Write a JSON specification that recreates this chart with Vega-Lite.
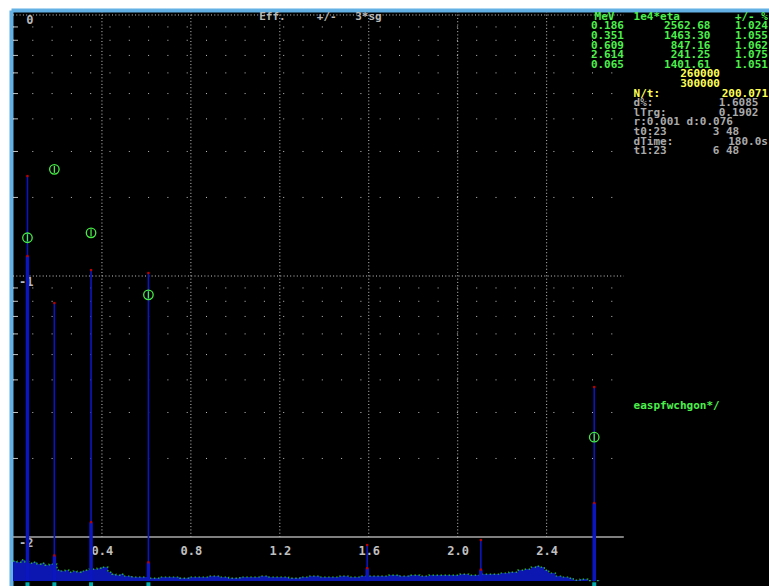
{
  "$schema": "https://vega.github.io/schema/vega-lite/v6.json",
  "width": 756,
  "height": 574,
  "autosize": {"type": "none"},
  "padding": {"left": 13, "top": 12, "right": 0, "bottom": 0},
  "background": "#ffffff",
  "config": {
    "view": {"fill": "#000000", "stroke": null},
    "text": {"font": "DejaVu Sans Mono", "fontWeight": "bold", "fontSize": 11}
  },
  "datasets": {
    "minor": [
      {"v": 200}, {"v": 300}, {"v": 400}, {"v": 500}, {"v": 600}, {"v": 700}, {"v": 800}, {"v": 900},
      {"v": 2000}, {"v": 3000}, {"v": 4000}, {"v": 5000}, {"v": 6000}, {"v": 7000}, {"v": 8000}, {"v": 9000}
    ],
    "decades": [{"v": 1000}, {"v": 10000}],
    "gridE": [{"E": 0.4}, {"E": 0.8}, {"E": 1.2}, {"E": 1.6}, {"E": 2.0}, {"E": 2.4}],
    "spectrum": [
      {"E": 0, "c": 80.9}, {"E": 0.018, "c": 80.2}, {"E": 0.036, "c": 81.7}, {"E": 0.054, "c": 80.2},
      {"E": 0.072, "c": 79.5}, {"E": 0.09, "c": 80.2}, {"E": 0.108, "c": 78.8}, {"E": 0.126, "c": 79.5},
      {"E": 0.144, "c": 78.1}, {"E": 0.162, "c": 78.8}, {"E": 0.18, "c": 78.8}, {"E": 0.198, "c": 74.7},
      {"E": 0.216, "c": 74.1}, {"E": 0.234, "c": 74.7}, {"E": 0.252, "c": 73.4}, {"E": 0.27, "c": 74.1},
      {"E": 0.288, "c": 73.4}, {"E": 0.306, "c": 74.1}, {"E": 0.324, "c": 74.7}, {"E": 0.342, "c": 75.4},
      {"E": 0.36, "c": 75.4}, {"E": 0.378, "c": 76.0}, {"E": 0.396, "c": 76.7}, {"E": 0.414, "c": 76.7},
      {"E": 0.427, "c": 73.4}, {"E": 0.445, "c": 72.1}, {"E": 0.463, "c": 71.5}, {"E": 0.481, "c": 72.1},
      {"E": 0.499, "c": 70.9}, {"E": 0.517, "c": 70.9}, {"E": 0.535, "c": 70.3}, {"E": 0.57, "c": 70.3},
      {"E": 0.61, "c": 69.6}, {"E": 0.66, "c": 70.3}, {"E": 0.7, "c": 70.3}, {"E": 0.75, "c": 69.6},
      {"E": 0.79, "c": 70.3}, {"E": 0.84, "c": 70.3}, {"E": 0.88, "c": 70.9}, {"E": 0.93, "c": 70.3},
      {"E": 0.97, "c": 69.6}, {"E": 1.02, "c": 70.3}, {"E": 1.06, "c": 70.3}, {"E": 1.11, "c": 70.9},
      {"E": 1.15, "c": 70.3}, {"E": 1.2, "c": 70.3}, {"E": 1.24, "c": 69.6}, {"E": 1.29, "c": 70.3},
      {"E": 1.33, "c": 70.9}, {"E": 1.38, "c": 70.3}, {"E": 1.42, "c": 70.3}, {"E": 1.47, "c": 70.9},
      {"E": 1.51, "c": 70.3}, {"E": 1.56, "c": 70.9}, {"E": 1.6, "c": 70.9}, {"E": 1.65, "c": 70.9},
      {"E": 1.69, "c": 71.5}, {"E": 1.74, "c": 70.9}, {"E": 1.78, "c": 71.5}, {"E": 1.83, "c": 70.9},
      {"E": 1.87, "c": 71.5}, {"E": 1.92, "c": 71.5}, {"E": 1.96, "c": 71.5}, {"E": 2.01, "c": 72.1},
      {"E": 2.05, "c": 71.5}, {"E": 2.1, "c": 72.1}, {"E": 2.14, "c": 72.1}, {"E": 2.19, "c": 72.8},
      {"E": 2.23, "c": 73.4}, {"E": 2.27, "c": 74.7}, {"E": 2.3, "c": 75.4}, {"E": 2.33, "c": 76.7},
      {"E": 2.35, "c": 77.4}, {"E": 2.37, "c": 76.7}, {"E": 2.39, "c": 74.7}, {"E": 2.41, "c": 72.8},
      {"E": 2.44, "c": 70.9}, {"E": 2.47, "c": 70.3}, {"E": 2.5, "c": 69.6}, {"E": 2.52, "c": 68.4},
      {"E": 2.55, "c": 69.0}, {"E": 2.585, "c": 68.1}, {"E": 2.64, "c": 67.8}
    ],
    "peaks": [
      {"E": 0.065, "top": 2416, "mid": 1193},
      {"E": 0.186, "top": 788, "mid": 85},
      {"E": 0.351, "top": 1054, "mid": 114},
      {"E": 0.609, "top": 1027, "mid": 80},
      {"E": 1.593, "top": 93.2, "mid": 76},
      {"E": 2.104, "top": 97.4, "mid": 75},
      {"E": 2.614, "top": 375.6, "mid": 135}
    ],
    "calib": [
      {"E": 0.186, "eta": 2562.68, "err": 1.024, "row": 1},
      {"E": 0.351, "eta": 1463.30, "err": 1.055, "row": 2},
      {"E": 0.609, "eta": 847.16, "err": 1.062, "row": 3},
      {"E": 2.614, "eta": 241.25, "err": 1.075, "row": 4},
      {"E": 0.065, "eta": 1401.61, "err": 1.051, "row": 5}
    ],
    "panelLeft": [
      {"t": "Eff.", "col": 27, "row": 0, "kind": "title"},
      {"t": "+/-", "col": 33, "row": 0, "kind": "title"},
      {"t": "3*sg", "col": 37, "row": 0, "kind": "title"},
      {"t": "1e4*eta", "col": 66, "row": 0, "kind": "cal"},
      {"t": "N/t:", "col": 66, "row": 8, "kind": "cnt"},
      {"t": "d%:", "col": 66, "row": 9, "kind": "stat"},
      {"t": "lTrg:", "col": 66, "row": 10, "kind": "stat"},
      {"t": "r:0.001 d:0.076", "col": 66, "row": 11, "kind": "stat"},
      {"t": "t0:23", "col": 66, "row": 12, "kind": "stat"},
      {"t": "dTime:", "col": 66, "row": 13, "kind": "stat"},
      {"t": "t1:23", "col": 66, "row": 14, "kind": "stat"},
      {"t": "easpfwchgon*/", "col": 66, "row": 40.55, "kind": "cal"}
    ],
    "panelRight": [
      {"t": "MeV", "col": 64, "row": 0, "kind": "cal"},
      {"t": "+/- %", "col": 80, "row": 0, "kind": "cal"},
      {"t": "260000", "col": 75, "row": 6, "kind": "cnt"},
      {"t": "300000", "col": 75, "row": 7, "kind": "cnt"},
      {"t": "200.071", "col": 80, "row": 8, "kind": "cnt"},
      {"t": "1.6085", "col": 79, "row": 9, "kind": "stat"},
      {"t": "0.1902", "col": 79, "row": 10, "kind": "stat"},
      {"t": "3 48", "col": 77, "row": 12, "kind": "stat"},
      {"t": "180.0s", "col": 80, "row": 13, "kind": "stat"},
      {"t": "6 48", "col": 77, "row": 14, "kind": "stat"}
    ]
  },
  "layer": [
    {
      "data": {"name": "minor"},
      "mark": {"type": "rule", "color": "#c0c0c0", "strokeWidth": 1, "strokeDash": [1, 18.3]},
      "encoding": {
        "x": {"datum": 0, "scale": {"domain": [0, 3.4], "nice": false, "zero": false}, "axis": null},
        "x2": {"datum": 2.747},
        "y": {
          "field": "v", "type": "quantitative",
          "scale": {"type": "log", "domain": [64.92, 10268], "nice": false},
          "axis": {
            "orient": "left", "values": [100, 1000, 10000],
            "labelExpr": "'' + (round(log(datum.value) / LN10) - 4)",
            "offset": 2, "domainColor": "#62b0e4", "domainWidth": 4, "domainCap": "square",
            "ticks": false, "grid": false, "title": null,
            "labelAlign": "right", "labelBaseline": "top", "labelPadding": -22,
            "labelFlush": false, "labelOverlap": false, "labelBound": false,
            "labelColor": "#b8b8b8", "labelFont": "DejaVu Sans Mono", "labelFontWeight": "bold", "labelFontSize": 12
          }
        }
      }
    },
    {
      "data": {"name": "minor"},
      "mark": {"type": "rule", "color": "#c0c0c0", "strokeWidth": 1},
      "encoding": {
        "x": {"datum": 0, "scale": {"domain": [0, 3.4], "nice": false, "zero": false}, "axis": null},
        "x2": {"datum": 0.0225},
        "y": {"field": "v", "type": "quantitative", "scale": {"type": "log", "domain": [64.92, 10268], "nice": false}, "axis": null}
      }
    },
    {
      "data": {"name": "decades"},
      "mark": {"type": "rule", "color": "#c8c8c8", "strokeWidth": 1, "strokeDash": [1, 2.3]},
      "encoding": {
        "x": {"datum": 0, "scale": {"domain": [0, 3.4], "nice": false, "zero": false}, "axis": null},
        "x2": {"datum": 2.747},
        "y": {"field": "v", "type": "quantitative", "scale": {"type": "log", "domain": [64.92, 10268], "nice": false}, "axis": null}
      }
    },
    {
      "data": {"name": "gridE"},
      "mark": {"type": "rule", "color": "#c8c8c8", "strokeWidth": 1, "strokeDash": [1, 2.3]},
      "encoding": {
        "x": {
          "field": "E", "type": "quantitative",
          "scale": {"domain": [0, 3.4], "nice": false, "zero": false},
          "axis": {
            "orient": "bottom", "values": [0.4, 0.8, 1.2, 1.6, 2.0, 2.4], "format": ".1f",
            "offset": -49, "domain": false, "ticks": false, "grid": false, "title": null,
            "labelPadding": 8, "labelBaseline": "top", "labelFlush": false, "labelOverlap": false,
            "labelColor": "#c0c0c0", "labelFont": "DejaVu Sans Mono", "labelFontWeight": "bold", "labelFontSize": 12
          }
        },
        "y": {"datum": 100, "scale": {"type": "log", "domain": [64.92, 10268], "nice": false}, "axis": null},
        "y2": {"datum": 10260}
      }
    },
    {
      "data": {"values": [{"level": 100}]},
      "mark": {"type": "rule", "color": "#a8a8a8", "strokeWidth": 1.6},
      "encoding": {
        "x": {"datum": 0, "scale": {"domain": [0, 3.4], "nice": false, "zero": false}, "axis": null},
        "x2": {"datum": 2.747},
        "y": {"field": "level", "type": "quantitative", "scale": {"type": "log", "domain": [64.92, 10268], "nice": false}, "axis": null}
      }
    },
    {
      "data": {"name": "spectrum"},
      "mark": {"type": "area", "interpolate": "step-after", "color": "#0c16b0"},
      "encoding": {
        "x": {"field": "E", "type": "quantitative", "scale": {"domain": [0, 3.4], "nice": false, "zero": false}, "axis": null},
        "y": {"field": "c", "type": "quantitative", "scale": {"type": "log", "domain": [64.92, 10268], "nice": false}, "axis": null},
        "y2": {"datum": 67.8}
      }
    },
    {
      "data": {"name": "spectrum"},
      "mark": {"type": "line", "interpolate": "step-after", "color": "#2cc82c", "strokeWidth": 1.2, "strokeDash": [1.5, 2.5]},
      "encoding": {
        "x": {"field": "E", "type": "quantitative", "scale": {"domain": [0, 3.4], "nice": false, "zero": false}, "axis": null},
        "y": {"field": "c", "type": "quantitative", "scale": {"type": "log", "domain": [64.92, 10268], "nice": false}, "axis": null}
      }
    },
    {
      "data": {"name": "peaks"},
      "mark": {"type": "rule", "color": "#0c16c0", "strokeWidth": 1.6},
      "encoding": {
        "x": {"field": "E", "type": "quantitative", "scale": {"domain": [0, 3.4], "nice": false, "zero": false}, "axis": null},
        "y": {"field": "top", "type": "quantitative", "scale": {"type": "log", "domain": [64.92, 10268], "nice": false}, "axis": null},
        "y2": {"datum": 67.8}
      }
    },
    {
      "data": {"name": "peaks"},
      "mark": {"type": "rule", "color": "#0c16c0", "strokeWidth": 3.5},
      "encoding": {
        "x": {"field": "E", "type": "quantitative", "scale": {"domain": [0, 3.4], "nice": false, "zero": false}, "axis": null},
        "y": {"field": "mid", "type": "quantitative", "scale": {"type": "log", "domain": [64.92, 10268], "nice": false}, "axis": null},
        "y2": {"datum": 67.8}
      }
    },
    {
      "data": {"name": "peaks"},
      "mark": {"type": "point", "shape": "square", "filled": true, "color": "#c00000", "size": 5, "opacity": 1},
      "encoding": {
        "x": {"field": "E", "type": "quantitative", "scale": {"domain": [0, 3.4], "nice": false, "zero": false}, "axis": null},
        "y": {"field": "top", "type": "quantitative", "scale": {"type": "log", "domain": [64.92, 10268], "nice": false}, "axis": null}
      }
    },
    {
      "data": {"name": "peaks"},
      "mark": {"type": "point", "shape": "square", "filled": true, "color": "#c00000", "size": 5, "opacity": 1},
      "encoding": {
        "x": {"field": "E", "type": "quantitative", "scale": {"domain": [0, 3.4], "nice": false, "zero": false}, "axis": null},
        "y": {"field": "mid", "type": "quantitative", "scale": {"type": "log", "domain": [64.92, 10268], "nice": false}, "axis": null}
      }
    },
    {
      "data": {"name": "calib"},
      "mark": {"type": "point", "shape": "square", "filled": true, "color": "#00aaaa", "size": 16, "opacity": 1},
      "encoding": {
        "x": {"field": "E", "type": "quantitative", "scale": {"domain": [0, 3.4], "nice": false, "zero": false}, "axis": null},
        "y": {"datum": 65.9, "scale": {"type": "log", "domain": [64.92, 10268], "nice": false}, "axis": null}
      }
    },
    {
      "data": {"name": "calib"},
      "transform": [
        {"calculate": "datum.eta * (1 - 3 * datum.err / 100)", "as": "lo"},
        {"calculate": "datum.eta * (1 + 3 * datum.err / 100)", "as": "hi"}
      ],
      "mark": {"type": "rule", "color": "#44ee44", "strokeWidth": 1.3},
      "encoding": {
        "x": {"field": "E", "type": "quantitative", "scale": {"domain": [0, 3.4], "nice": false, "zero": false}, "axis": null},
        "y": {"field": "lo", "type": "quantitative", "scale": {"type": "log", "domain": [64.92, 10268], "nice": false}, "axis": null},
        "y2": {"field": "hi"}
      }
    },
    {
      "data": {"name": "calib"},
      "mark": {"type": "point", "shape": "circle", "filled": false, "color": "#44ee44", "size": 90, "strokeWidth": 1.3, "opacity": 1},
      "encoding": {
        "x": {"field": "E", "type": "quantitative", "scale": {"domain": [0, 3.4], "nice": false, "zero": false}, "axis": null},
        "y": {"field": "eta", "type": "quantitative", "scale": {"type": "log", "domain": [64.92, 10268], "nice": false}, "axis": null}
      }
    },
    {
      "data": {"name": "panelLeft"},
      "mark": {"type": "text", "align": "left", "baseline": "middle"},
      "encoding": {
        "x": {
          "field": "col", "type": "quantitative",
          "scale": {"domain": [1.354, 80.104], "nice": false, "zero": false},
          "axis": {"orient": "top", "offset": 2, "domainColor": "#62b0e4", "domainWidth": 4, "domainCap": "square", "labels": false, "ticks": false, "grid": false, "title": null}
        },
        "y": {"field": "row", "type": "quantitative", "scale": {"domain": [-0.4896, 59.302], "reverse": true, "nice": false, "zero": false}, "axis": null},
        "text": {"field": "t", "type": "nominal"},
        "color": {
          "field": "kind", "type": "nominal", "legend": null,
          "scale": {"domain": ["cal", "cnt", "stat", "title"], "range": ["#4cf04c", "#ffff55", "#aaaaaa", "#b8b8b8"]}
        }
      }
    },
    {
      "data": {"name": "panelRight"},
      "mark": {"type": "text", "align": "right", "baseline": "middle"},
      "encoding": {
        "x": {"field": "col", "type": "quantitative", "scale": {"domain": [1.354, 80.104], "nice": false, "zero": false}, "axis": null},
        "y": {"field": "row", "type": "quantitative", "scale": {"domain": [-0.4896, 59.302], "reverse": true, "nice": false, "zero": false}, "axis": null},
        "text": {"field": "t", "type": "nominal"},
        "color": {"field": "kind", "type": "nominal", "legend": null}
      }
    },
    {
      "data": {"name": "calib"},
      "mark": {"type": "text", "align": "right", "baseline": "middle", "color": "#4cf04c"},
      "encoding": {
        "x": {"datum": 65, "scale": {"domain": [1.354, 80.104], "nice": false, "zero": false}, "axis": null},
        "y": {"field": "row", "type": "quantitative", "scale": {"domain": [-0.4896, 59.302], "reverse": true, "nice": false, "zero": false}, "axis": null},
        "text": {"field": "E", "type": "quantitative", "format": ".3f"}
      }
    },
    {
      "data": {"name": "calib"},
      "mark": {"type": "text", "align": "right", "baseline": "middle", "color": "#4cf04c"},
      "encoding": {
        "x": {"datum": 74, "scale": {"domain": [1.354, 80.104], "nice": false, "zero": false}, "axis": null},
        "y": {"field": "row", "type": "quantitative", "scale": {"domain": [-0.4896, 59.302], "reverse": true, "nice": false, "zero": false}, "axis": null},
        "text": {"field": "eta", "type": "quantitative", "format": ".2f"}
      }
    },
    {
      "data": {"name": "calib"},
      "mark": {"type": "text", "align": "right", "baseline": "middle", "color": "#4cf04c"},
      "encoding": {
        "x": {"datum": 80, "scale": {"domain": [1.354, 80.104], "nice": false, "zero": false}, "axis": null},
        "y": {"field": "row", "type": "quantitative", "scale": {"domain": [-0.4896, 59.302], "reverse": true, "nice": false, "zero": false}, "axis": null},
        "text": {"field": "err", "type": "quantitative", "format": ".3f"}
      }
    }
  ],
  "resolve": {"scale": {"x": "independent", "y": "independent"}}
}
